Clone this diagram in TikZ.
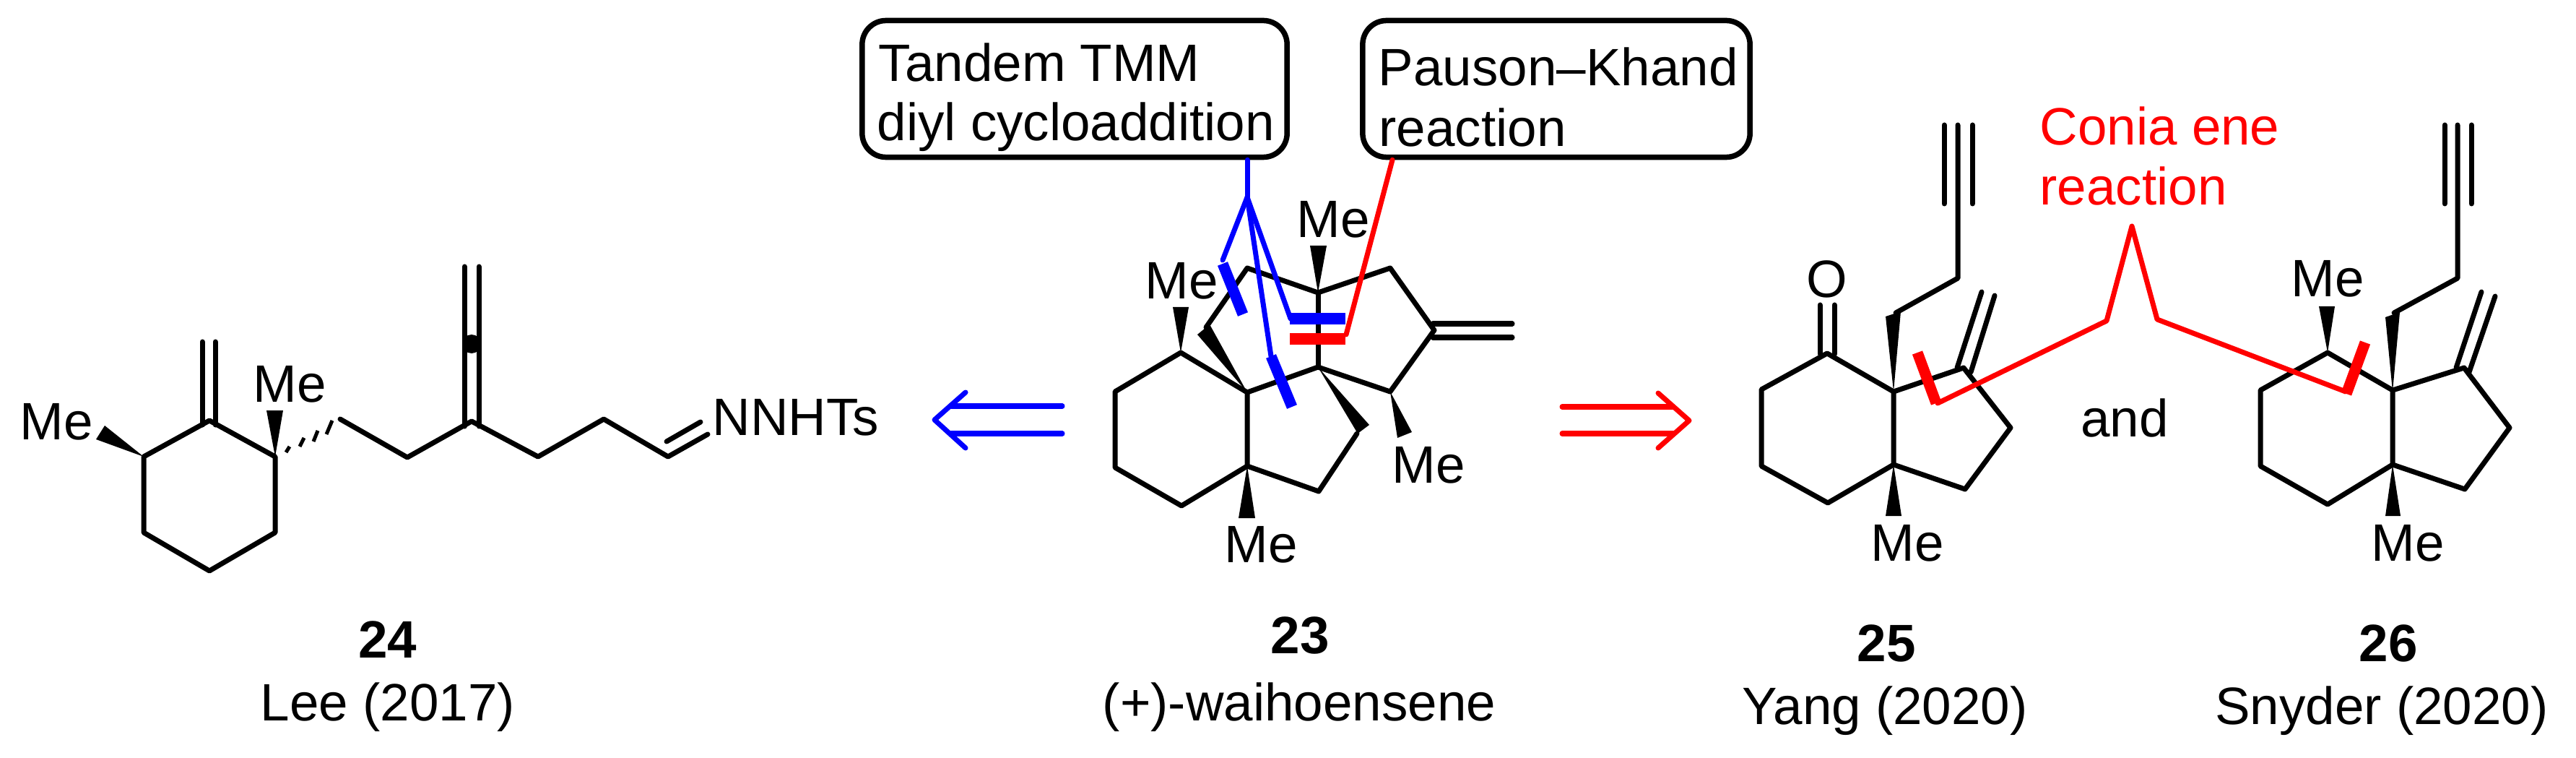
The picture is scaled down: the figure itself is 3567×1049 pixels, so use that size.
\documentclass[tikz,border=0pt]{standalone}
\usepackage{fontspec}
\setmainfont{Liberation Sans}
\usepackage{xcolor}
\usepackage{tikz}

\tikzset{
    bond/.style={line width=0.07cm, line cap=round, line join=round},
    hashbond/.style={line width=0.05cm},
    bar/.style={line width=0.15cm},
    lbl/.style={inner sep=0pt, font=\fontsize{20.7}{23.5}\selectfont},
    callout/.style={draw, line width=0.075cm, rounded corners=0.33cm, inner sep=0pt}
}

\begin{document}
\begin{tikzpicture}[x=0.01cm, y=-0.01cm]
            \useasboundingbox (0,0) rectangle (3567,1049);
            % Compound 24, ring
            \draw[bond] (199,632) -- (290,582) -- (381,632) -- (381,737) -- (290,790) -- (199,737) -- cycle;
            \draw[bond] (280,473) -- (280,588);
            \draw[bond] (298,473) -- (298,588);
            \fill (199,632) -- (145,589) -- (133,608) -- cycle;
            \fill (381,632) -- (369,568) -- (392,568) -- cycle;
            \node[lbl] (meA) at (78,584) {Me};
            \node[lbl] (meB) at (401,532) {Me};
            % Compound 24, hashed bond
            \draw[hashbond] (396,626) -- (401,618);
            \draw[hashbond] (415,618) -- (421,606);
            \draw[hashbond] (434,611) -- (440,596);
            \draw[hashbond] (452,601) -- (460,582);
            % Compound 24, chain
            \draw[bond] (471,580) -- (564,633) -- (653,583) -- (745,632) -- (836,580) -- (925,632) -- (980,601);
            \draw[bond] (923,611) -- (970,584);
            \draw[bond] (643,369) -- (643,590);
            \draw[bond] (663,369) -- (663,590);
            \fill (653,476) circle (13);
            \node[lbl, anchor=base west] (hydrazone) at (986,602) {NNHTs};
            \node[lbl, font=\fontsize{20.7}{23.5}\selectfont\bfseries] (numA) at (537,885) {24};
            \node[lbl, anchor=base] (leeA) at (537,997) {Lee (2017)};
            % Retro arrows
            \draw[bond, blue] (1471,562) -- (1317,562);
            \draw[bond, blue] (1471,600) -- (1317,600);
            \draw[bond, blue] (1337,543) -- (1294,581) -- (1337,620);
            \draw[bond, red] (2163,563) -- (2317,563);
            \draw[bond, red] (2163,600) -- (2317,600);
            \draw[bond, red] (2296,544) -- (2339,582) -- (2296,620);
            % Compound 23, rings
            \draw[bond] (1727,543) -- (1635,488) -- (1544,542) -- (1544,647) -- (1636,700) -- (1727,645) -- cycle;
            \draw[bond] (1727,543) -- (1825,508) -- (1925,542) -- (1986,457) -- (1925,371) -- (1825,405) -- (1727,371) -- (1670,453);
            \draw[bond] (1825,405) -- (1825,508);
            \draw[bond] (1879,600) -- (1826,680) -- (1727,645);
            \draw[bond] (1984,448) -- (2094,448);
            \draw[bond] (1984,467) -- (2094,467);
            % Compound 23, wedges
            \fill (1727,543) -- (1658,463) -- (1675,449) -- cycle;
            \fill (1825,508) -- (1880,600) -- (1896,588) -- cycle;
            \fill (1825,405) -- (1814,340) -- (1837,340) -- cycle;
            \fill (1635,488) -- (1624,425) -- (1646,425) -- cycle;
            \fill (1925,542) -- (1955,598) -- (1935,606) -- cycle;
            \fill (1727,645) -- (1715,717) -- (1738,717) -- cycle;
            \node[lbl] (meC) at (1846,304) {Me};
            \node[lbl] (meD) at (1636,389) {Me};
            \node[lbl] (meE) at (1978,644) {Me};
            \node[lbl] (meF) at (1746,754) {Me};
            \node[lbl, font=\fontsize{20.7}{23.5}\selectfont\bfseries] (numB) at (1800,879) {23};
            \node[lbl, anchor=base] (waihoensene) at (1799,997) {(+)-waihoensene};
            % Callouts
            \node[callout, minimum width=5.88cm, minimum height=1.89cm] (tmmbox) at (1488,123) {};
            \node[lbl, anchor=base west] (tmmA) at (1216,113) {Tandem TMM};
            \node[lbl, anchor=base west] (tmmB) at (1214,195) {diyl cycloaddition};
            \node[callout, minimum width=5.36cm, minimum height=1.89cm] (pkbox) at (2155,123) {};
            \node[lbl, anchor=base west] (pkA) at (1908,119) {Pauson--Khand};
            \node[lbl, anchor=base west] (pkB) at (1909,203) {reaction};
            \coordinate (tmmtip) at (1727,273);
            \coordinate (pktip) at (1864,463);
            \draw[bond, blue] (tmmbox.south -| tmmtip) -- (tmmtip);
            \draw[bond, blue] (tmmtip) -- (1693,360);
            \draw[bond, blue] (tmmtip) -- (1787,441);
            \draw[bond, blue] (tmmtip) -- (1760,493);
            \draw[bar, blue] (1693,365) -- (1721,435);
            \draw[bar, blue] (1786,441) -- (1863,441);
            \draw[bar, blue] (1760,493) -- (1789,563);
            \draw[bond, red] (pkbox.south -| 1928,0) -- (pktip);
            \draw[bar, red] (1786,469) -- (1863,469);
            % Compound 25
            \draw[bond] (2530,489) -- (2439,539) -- (2439,645) -- (2531,696) -- (2622,643) -- (2622,542) -- cycle;
            \draw[bond] (2622,542) -- (2719,509) -- (2784,592) -- (2721,677) -- (2622,643);
            \draw[bond] (2520,422) -- (2520,490);
            \draw[bond] (2540,422) -- (2540,490);
            \draw[bond] (2710,509) -- (2744,404);
            \draw[bond] (2729,515) -- (2762,409);
            \draw[bond] (2625,433) -- (2711,385) -- (2711,173);
            \draw[bond] (2692,173) -- (2692,282);
            \draw[bond] (2731,173) -- (2731,282);
            \fill (2622,542) -- (2611,438) -- (2632,431) -- cycle;
            \fill (2622,643) -- (2611,714) -- (2633,714) -- cycle;
            \node[lbl] (oxoA) at (2530,386) {O};
            \node[lbl] (meG) at (2641,752) {Me};
            \node[lbl, font=\fontsize{20.7}{23.5}\selectfont\bfseries] (numC) at (2612,890) {25};
            \node[lbl, anchor=base] (yang) at (2610,1002) {Yang (2020)};
            % Word between 25 and 26
            \node[lbl, anchor=base] (andword) at (2942,604) {and};
            % Compound 26
            \draw[bond] (3223,488) -- (3130,540) -- (3130,645) -- (3223,698) -- (3313,643) -- (3313,540) -- cycle;
            \draw[bond] (3313,540) -- (3412,509) -- (3475,592) -- (3413,677) -- (3313,643);
            \draw[bond] (3401,509) -- (3436,404);
            \draw[bond] (3419,515) -- (3455,410);
            \draw[bond] (3315,433) -- (3403,385) -- (3403,173);
            \draw[bond] (3385,173) -- (3385,282);
            \draw[bond] (3422,173) -- (3422,282);
            \fill (3313,542) -- (3303,439) -- (3323,432) -- cycle;
            \fill (3223,488) -- (3211,424) -- (3233,424) -- cycle;
            \fill (3313,643) -- (3303,714) -- (3324,714) -- cycle;
            \node[lbl] (meH) at (3223,386) {Me};
            \node[lbl] (meI) at (3334,752) {Me};
            \node[lbl, font=\fontsize{20.7}{23.5}\selectfont\bfseries] (numD) at (3307,890) {26};
            \node[lbl, anchor=base] (snyder) at (3298,1002) {Snyder (2020)};
            % Conia ene disconnection
            \node[lbl, text=red, anchor=base west] (coniaA) at (2824,201) {Conia ene};
            \node[lbl, text=red, anchor=base west] (coniaB) at (2824,284) {reaction};
            \coordinate (coniatip) at (2952,313);
            \draw[bond, red] (2683,558) -- (2917,444) -- (coniatip) -- (2987,442) -- (3248,542);
            \draw[bar, red] (2655,488) -- (2681,558);
            \draw[bar, red] (3249,545) -- (3275,474);
\end{tikzpicture}
\end{document}
